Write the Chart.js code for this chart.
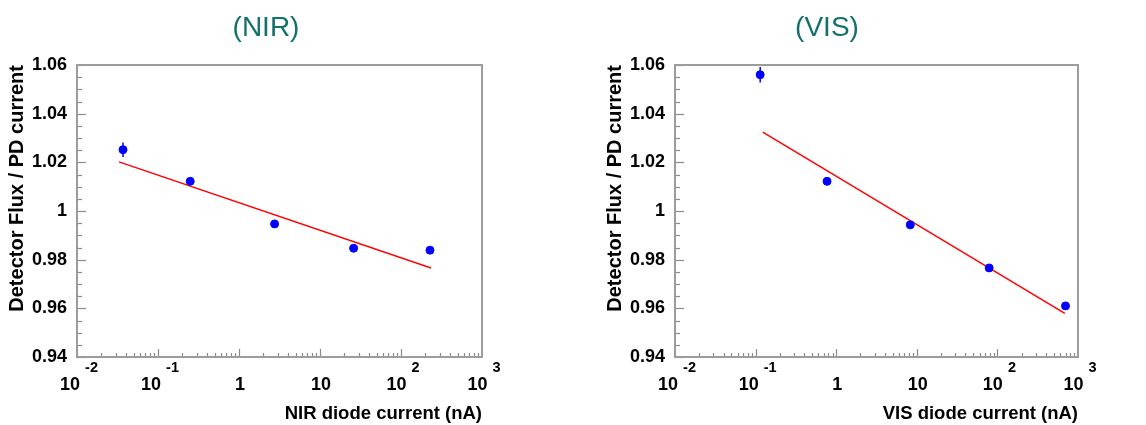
<!DOCTYPE html>
<html>
<head>
<meta charset="utf-8">
<script src="https://cdn.jsdelivr.net/npm/chart.js@4/dist/chart.umd.min.js"></script>
<style>
  html, body { margin: 0; padding: 0; background: #fff; }
  .wrap { position: absolute; top: 0; width: 573px; height: 425px; }
  #boxNir { left: 0; }
  #boxVis { left: 573px; }
</style>
</head>
<body>
<div class="wrap" id="boxNir"><canvas id="chartNir" width="573" height="425"></canvas></div>
<div class="wrap" id="boxVis"><canvas id="chartVis" width="573" height="425"></canvas></div>
<script>
// Dados (NIR)
const nirCurrent = [0.037, 0.25, 2.75, 26, 228];
const nirRatio = [1.0252, 1.0122, 0.9947, 0.9847, 0.9839];
const nirErr = [0.003, 0.0008, 0.0006, 0.0006, 0.0006];
const nirFitX = [0.033, 235];
const nirFitY = [1.0202, 0.9766];

// Dados (VIS)
const visCurrent = [0.114, 0.77, 8.3, 79, 700];
const visRatio = [1.0560, 1.0122, 0.9943, 0.9766, 0.9610];
const visErr = [0.0032, 0.0008, 0.0006, 0.0006, 0.0006];
const visFitX = [0.1227, 686];
const visFitY = [1.0324, 0.9579];

// Rótulos dos eixos
const yTickValues = [0.94, 0.96, 0.98, 1.00, 1.02, 1.04, 1.06];
const xDecades = [0.01, 0.1, 1, 10, 100, 1000];
const xDecadeLabels = [['10', '-2'], ['10', '-1'], ['1', ''], ['10', ''], ['10', '2'], ['10', '3']];

const FONT = '"Liberation Sans", Arial, sans-serif';

// Plugin para título, moldura, ticks internos, barras de erro e rótulos do eixo x
const frameTicksPlugin = {
    id: 'frameTicks',
    afterDatasetsDraw(chart, args, opts) {
        const { ctx, chartArea: a, scales } = chart;
        const x = scales.x, y = scales.y;
        ctx.save();

        // Título do painel
        ctx.fillStyle = '#13706b';
        ctx.font = '28px ' + FONT;
        ctx.textAlign = 'center';
        ctx.textBaseline = 'middle';
        ctx.fillText(opts.text, opts.x, 28);

        // Barras de erro
        const pts = chart.data.datasets[0];
        ctx.strokeStyle = '#0000ff';
        ctx.lineWidth = 1.5;
        pts.data.forEach((p, i) => {
            const px = x.getPixelForValue(p.x);
            ctx.beginPath();
            ctx.moveTo(px, y.getPixelForValue(p.y + pts.errors[i]));
            ctx.lineTo(px, y.getPixelForValue(p.y - pts.errors[i]));
            ctx.stroke();
        });

        // Ticks do eixo y
        ctx.strokeStyle = '#8a8a8a';
        ctx.lineWidth = 1.2;
        for (let k = 0; k <= 24; k++) {
            const v = 0.94 + k * 0.005;
            const py = Math.round(y.getPixelForValue(v)) + 0.5;
            const len = (k % 4 === 0) ? 9 : 5;
            ctx.beginPath();
            ctx.moveTo(a.left, py);
            ctx.lineTo(a.left + len, py);
            ctx.stroke();
        }

        // Ticks do eixo x (log)
        for (let d = -2; d < 3; d++) {
            for (let m = 1; m <= 9; m++) {
                const v = m * Math.pow(10, d);
                const px = Math.round(x.getPixelForValue(v)) + 0.5;
                const len = (m === 1) ? 8 : 4;
                ctx.beginPath();
                ctx.moveTo(px, a.bottom);
                ctx.lineTo(px, a.bottom - len);
                ctx.stroke();
            }
        }

        // Moldura
        ctx.strokeStyle = '#9c9c9c';
        ctx.lineWidth = 2;
        ctx.strokeRect(a.left, a.top, a.right - a.left, a.bottom - a.top);

        // Rótulos do eixo x com expoente
        ctx.fillStyle = '#000';
        ctx.textBaseline = 'middle';
        xDecades.forEach((v, i) => {
            const px = x.getPixelForValue(v);
            const [base, exp] = xDecadeLabels[i];
            ctx.font = 'bold 18px ' + FONT;
            const wb = ctx.measureText(base).width;
            if (!exp) {
                ctx.textAlign = 'center';
                ctx.fillText(base, px + 1, a.bottom + 28);
                return;
            }
            ctx.font = 'bold 14.5px ' + FONT;
            const we = ctx.measureText(exp).width;
            const gap = 5;
            const start = px - (wb + gap + we) / 2 + 2;
            ctx.textAlign = 'left';
            ctx.font = 'bold 18px ' + FONT;
            ctx.fillText(base, start, a.bottom + 28);
            ctx.font = 'bold 14.5px ' + FONT;
            ctx.fillText(exp, start + wb + gap, a.bottom + 11);
        });

        ctx.restore();
    }
};

function buildChart(canvasId, title, titleX, xTitle, current, ratio, errs, fitX, fitY, padLeft, padRight) {
    const ctx = document.getElementById(canvasId).getContext('2d');
    return new Chart(ctx, {
        type: 'scatter',
        data: {
            datasets: [{
                label: 'dados',
                data: current.map((c, i) => ({ x: c, y: ratio[i] })),
                errors: errs,
                backgroundColor: '#0000ff',
                borderColor: '#0000ff',
                pointRadius: 4,
                pointHoverRadius: 4,
                showLine: false
            }, {
                type: 'line',
                label: 'ajuste',
                data: fitX.map((c, i) => ({ x: c, y: fitY[i] })),
                borderColor: '#ff0000',
                borderWidth: 1.5,
                pointRadius: 0,
                fill: false
            }]
        },
        options: {
            responsive: false,
            animation: false,
            layout: { padding: { left: padLeft, right: padRight, top: 65, bottom: 0 } },
            plugins: {
                legend: { display: false },
                tooltip: { enabled: false },
                title: { display: false },
                frameTicks: { text: title, x: titleX }
            },
            scales: {
                x: {
                    type: 'logarithmic',
                    min: 0.01,
                    max: 1000,
                    grid: { display: false },
                    border: { display: false },
                    ticks: { display: false },
                    title: {
                        display: true,
                        text: xTitle,
                        align: 'end',
                        color: '#000',
                        font: { family: FONT, size: 18.5, weight: 'bold' },
                        padding: { top: 0, bottom: 0 }
                    },
                    afterFit(scale) { scale.height = 68; }
                },
                y: {
                    min: 0.94,
                    max: 1.06,
                    grid: { display: false, drawTicks: false, tickLength: 0 },
                    border: { display: false },
                    afterBuildTicks(scale) {
                        scale.ticks = yTickValues.map(v => ({ value: v }));
                    },
                    ticks: {
                        color: '#000',
                        padding: 10,
                        font: { family: FONT, size: 18, weight: 'bold' },
                        callback: v => String(Number(v.toFixed(2)))
                    },
                    title: {
                        display: true,
                        text: 'Detector Flux / PD current',
                        align: 'end',
                        color: '#000',
                        font: { family: FONT, size: 20, weight: 'bold' },
                        padding: { top: 5, bottom: 0 }
                    },
                    afterFit(scale) { scale.width = 77; }
                }
            }
        },
        plugins: [frameTicksPlugin]
    });
}

buildChart('chartNir', '(NIR)', 266, 'NIR diode current (nA)', nirCurrent, nirRatio, nirErr, nirFitX, nirFitY, 0, 91);
buildChart('chartVis', '(VIS)', 254, 'VIS diode current (nA)', visCurrent, visRatio, visErr, visFitX, visFitY, 25, 68);
</script>
</body>
</html>
